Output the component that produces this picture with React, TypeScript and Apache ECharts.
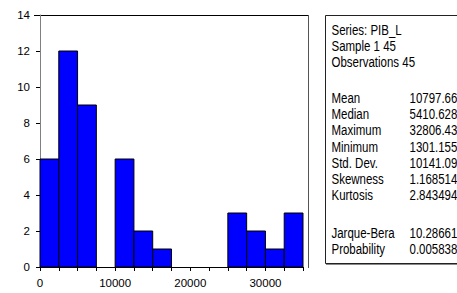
import React, { useEffect, useRef } from "react";
import * as echarts from "echarts";

const binWidth = 2500;
const binStarts = [0, 2500, 5000, 7500, 10000, 12500, 15000, 17500, 20000, 22500, 25000, 27500, 30000, 32500];
const binCounts = [6, 12, 9, 0, 6, 2, 1, 0, 0, 0, 3, 2, 1, 3];
const xTickLabels = [0, 10000, 20000, 30000];
const headerLines = ["Series: PIB_L", "Sample 1 45", "Observations 45"];
const statLabels = ["Mean", "Median", "Maximum", "Minimum", "Std. Dev.", "Skewness", "Kurtosis"];
const statValues = ["10797.66", "5410.628", "32806.43", "1301.155", "10141.09", "1.168514", "2.843494"];
const testLabels = ["Jarque-Bera", "Probability"];
const testValues = ["10.28661", "0.005838"];

const FONT = "'Liberation Sans', Arial, sans-serif";
const AXIS_FS = 11.5;
const PANEL_FS = 14;
const PANEL_SX = 0.82;

export default function App() {
  const ref = useRef<HTMLDivElement>(null);
  useEffect(() => {
    if (!ref.current) return;
    const chart = echarts.init(ref.current, undefined, { renderer: "svg" });
    const data = binStarts.map((s, i) => [s, s + binWidth, binCounts[i]]);

    const textEls: any[] = [];
    const colX = 331.5;
    const valX = 409.5;
    const mk = (t: string, x: number, y: number) => ({
      type: "text",
      x,
      y,
      scaleX: PANEL_SX,
      style: { text: t, font: `${PANEL_FS}px ${FONT}`, fill: "#000", textVerticalAlign: "middle" },
    });
    headerLines.forEach((t, i) => textEls.push(mk(t, colX, 30.3 + i * 15.7)));
    statLabels.forEach((t, i) => {
      const y = 98 + i * 16.2;
      textEls.push(mk(t, colX, y));
      textEls.push(mk(statValues[i], valX, y));
    });
    testLabels.forEach((t, i) => {
      const y = 233 + i * 16;
      textEls.push(mk(t, colX, y));
      textEls.push(mk(testValues[i], valX, y));
    });

    chart.setOption({
      animation: false,
      backgroundColor: "#fff",
      grid: { left: 40, top: 15, width: 263, height: 252 },
      xAxis: {
        type: "value",
        min: 0,
        max: 35000,
        interval: binWidth,
        splitLine: { show: false },
        axisLine: { show: true, onZero: false, lineStyle: { color: "#000", width: 1 } },
        axisTick: { show: true, length: 4, lineStyle: { color: "#000" } },
        axisLabel: {
          margin: 10,
          color: "#000",
          fontFamily: FONT,
          fontSize: AXIS_FS,
          showMaxLabel: true,
          formatter: (v: number) => (xTickLabels.includes(v) ? String(v) : ""),
        },
      },
      yAxis: {
        type: "value",
        min: 0,
        max: 14,
        interval: 2,
        offset: 6,
        splitLine: { show: false },
        axisLine: { show: true, lineStyle: { color: "#808080", width: 1 } },
        axisTick: { show: true, length: 4, lineStyle: { color: "#000" } },
        axisLabel: { margin: 4, color: "#000", fontFamily: FONT, fontSize: AXIS_FS },
      },
      series: [
        {
          type: "custom",
          data,
          encode: { x: [0, 1], y: 2 },
          renderItem: (params: any, api: any) => {
            const x0 = api.value(0);
            const x1 = api.value(1);
            const c = api.value(2);
            if (!c) return null;
            const p0 = api.coord([x0, c]);
            const p1 = api.coord([x1, 0]);
            return {
              type: "rect",
              shape: { x: p0[0], y: p0[1], width: p1[0] - p0[0], height: p1[1] - p0[1] },
              style: { fill: "#0000FF", stroke: "#000", lineWidth: 1 },
            };
          },
        },
      ],
      graphic: [
        { type: "line", shape: { x1: 34, y1: 15.5, x2: 308.5, y2: 15.5 }, style: { stroke: "#000", lineWidth: 1 } },
        { type: "line", shape: { x1: 308.5, y1: 15, x2: 308.5, y2: 268 }, style: { stroke: "#555", lineWidth: 1 } },
        { type: "rect", shape: { x: 325.5, y: 15.5, width: 140, height: 248 }, style: { fill: "#fff", stroke: "#222", lineWidth: 1 } },
        { type: "line", shape: { x1: 326, y1: 264.5, x2: 457, y2: 264.5 }, style: { stroke: "#888", lineWidth: 1 } },
        ...textEls,
      ],
    });
    return () => chart.dispose();
  }, []);
  return <div ref={ref} style={{ position: "fixed", left: 0, top: 0, width: 457, height: 293 }} />;
}
